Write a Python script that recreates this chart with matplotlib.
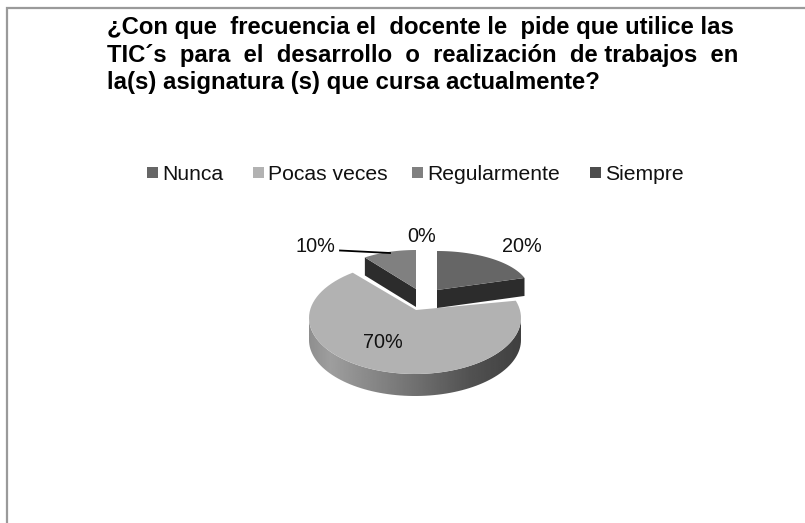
#!/usr/bin/env python3
"""Pie chart (fake 3D) of how often teachers ask for ICT use -> out.png"""
import numpy as np
import matplotlib
matplotlib.use("Agg")
import matplotlib.pyplot as plt
from matplotlib.patches import Polygon

plt.rcParams["font.family"] = ["Liberation Sans", "DejaVu Sans"]

# data
categories = ["Nunca", "Pocas veces", "Regularmente", "Siempre"]
values = [20, 70, 10, 0]
title_lines = [
    "¿Con que frecuencia el docente le pide que utilice las",
    "TIC´s para el desarrollo o realización de trabajos en",
    "la(s) asignatura (s) que cursa actualmente?",
]

# styles, all in pixels of the 805x523 picture
C_TOP = ["#666666", "#b2b2b2", "#808080", "#4d4d4d"]
C_SIDE = "#2c2c2c"
# (arc centre x, y, rx, ry, apex x, y, depth)
GEOM = [
    (437, 290, 92, 39, 437, 290, 18),
    (415, 318, 106, 56, 416, 310, 22),
    (416, 289, 87, 39, 416, 289, 18),
]
LABEL_POS = [(522, 246), (383, 342), (315, 246), (422, 237)]
LEGEND_X = [(147, 162), (253, 268), (412, 427), (590, 605)]
GRAD_X = [309, 330, 415, 470, 521]
GRAD_C = [0.56, 0.62, 0.44, 0.32, 0.25]
TITLE_FS = 17.2


def arc(g, t0, t1, n=80):
    t = np.radians(np.linspace(t0, t1, n))
    return g[0] + g[2] * np.sin(t), g[1] - g[3] * np.cos(t)


def justified(ax, renderer, line, y, x0, x1, fs):
    # no word-spacing in mpl, so pad the gaps with whole spaces
    words = line.split(" ")
    n = len(words) - 1
    gaps = [1] * n
    t = ax.text(x0, y, line, fontsize=fs, weight="bold", va="baseline", color="black")
    i = 0
    while True:
        w = t.get_window_extent(renderer).width
        if w >= x1 - x0 - 3:
            break
        # odd gaps first so the wider ones spread over the whole line
        order = list(range(1, n, 2)) + list(range(0, n, 2))
        gaps[order[i % n]] += 1
        i += 1
        s = words[0]
        for g, word in zip(gaps, words[1:]):
            s += " " * g + word
        t.set_text(s)


def main():
    fig = plt.figure(figsize=(8.05, 5.23), dpi=100)
    ax = fig.add_axes([0, 0, 1, 1])
    ax.set_xlim(0, 805)
    ax.set_ylim(523, 0)
    ax.axis("off")
    renderer = fig.canvas.get_renderer()

    # frame: only top and left survive the crop
    ax.plot([6.5, 6.5, 805], [523, 8, 8], color="#9a9a9a", lw=1.6, solid_joinstyle="miter")

    justified(ax, renderer, title_lines[0], 34, 107, 736, TITLE_FS)
    justified(ax, renderer, title_lines[1], 62, 107, 736, TITLE_FS)
    ax.text(107, 89, title_lines[2], fontsize=TITLE_FS, weight="bold", va="baseline")

    # legend
    for name, c, (xs, xt) in zip(categories, C_TOP, LEGEND_X):
        ax.fill([xs, xs + 11, xs + 11, xs], [167, 167, 178, 178], color=c, lw=0)
        ax.text(xt, 174, name, fontsize=15.2, va="center", color="#111111")

    edges = np.cumsum([0] + values) * 3.6

    # main slice (Pocas veces): rim first, then top
    g = GEOM[1]
    xb, yb = arc(g, 90, 270)
    rim = Polygon(np.r_[np.c_[xb, yb + g[6]], np.c_[xb[::-1], yb[::-1]]], closed=True,
                  fc="none", ec="none")
    ax.add_patch(rim)
    gx = np.linspace(g[0] - g[2], g[0] + g[2], 256)
    shade = np.interp(gx, GRAD_X, GRAD_C)[None, :]
    im = ax.imshow(shade, cmap="gray", vmin=0, vmax=1, aspect="auto", zorder=2,
                   extent=[gx[0], gx[-1], g[1] + g[3] + g[6] + 1, g[1] - 1])
    im.set_clip_path(rim)
    ax.set_xlim(0, 805)
    ax.set_ylim(523, 0)
    xa, ya = arc(g, edges[1], edges[2])
    ax.fill(np.r_[g[4], xa], np.r_[g[5], ya], color=C_TOP[1], lw=0, zorder=3)

    # exploded slices: cut faces, then top
    for i in (0, 2):
        g = GEOM[i]
        xa, ya = arc(g, edges[i], edges[i + 1])
        d = g[6]
        k = -1 if i == 0 else 0  # the cut face that looks at the viewer
        ax.fill([g[4], xa[k], xa[k], g[4]], [g[5], ya[k], ya[k] + d, g[5] + d],
                color=C_SIDE, lw=0, zorder=4)
        ax.fill(np.r_[g[4], xa], np.r_[g[5], ya], color=C_TOP[i], lw=0, zorder=5)

    # data labels
    for v, (x, y) in zip(values, LABEL_POS):
        ax.text(x, y, f"{v}%", fontsize=14.3, ha="center", va="center", color="#111111", zorder=6)
    ax.plot([340, 390], [250.5, 253], color="black", lw=1.3, zorder=6)

    fig.savefig("out.png", dpi=100, facecolor="white")


if __name__ == "__main__":
    main()
